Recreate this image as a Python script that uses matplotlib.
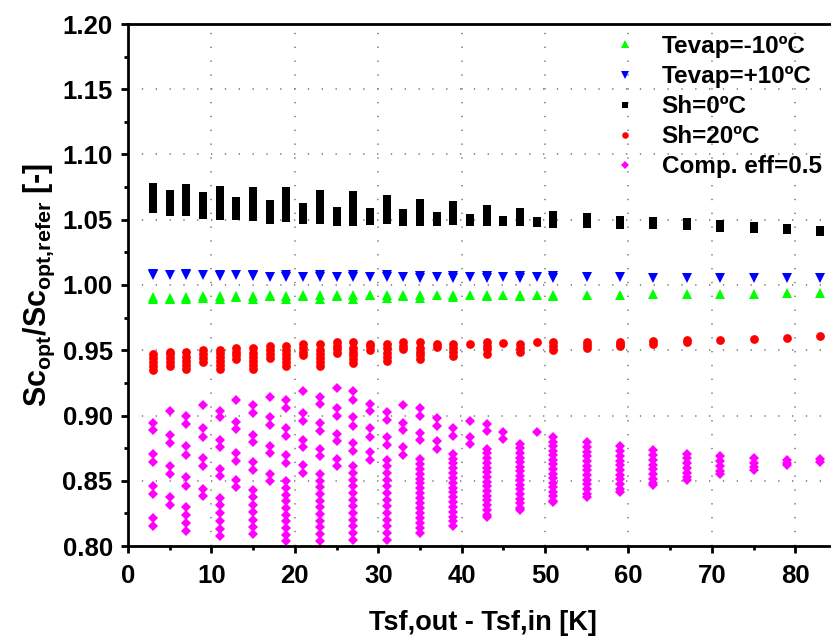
import numpy as np
import matplotlib
matplotlib.use("Agg")
import matplotlib.pyplot as plt
from matplotlib.ticker import MultipleLocator

plt.rcParams['font.family'] = ['Liberation Sans', 'DejaVu Sans']
plt.rcParams['font.weight'] = 'bold'
plt.rcParams['mathtext.fontset'] = 'custom'
plt.rcParams['mathtext.rm'] = 'Liberation Sans:bold'
plt.rcParams['mathtext.it'] = 'Liberation Sans:bold'
plt.rcParams['mathtext.bf'] = 'Liberation Sans:bold'
plt.rcParams['mathtext.default'] = 'rm'

# Tsf,out - Tsf,in [K]
dt = [3, 5, 7, 9, 11, 13, 15, 17, 19, 21, 23, 25, 27, 29, 31, 33, 35, 37, 39,
      41, 43, 45, 47, 49, 51, 55, 59, 63, 67, 71, 75, 79, 83]

# Sc_opt / Sc_opt,refer for each case, one list per dt value
tevap_m10 = [
    [0.9889, 0.9907], [0.9894, 0.9902], [0.9889, 0.9907], [0.9899, 0.9914],
    [0.9889, 0.9914], [0.9907, 0.9914], [0.9889, 0.9914], [0.9914, 0.9922],
    [0.9889, 0.9914], [0.9914, 0.9922], [0.9894, 0.9922], [0.9914, 0.9927],
    [0.9894, 0.9922], [0.9920, 0.9927], [0.9899, 0.9922], [0.9914, 0.9920],
    [0.9899, 0.9922], [0.9921], [0.9907, 0.9927], [0.9922],
    [0.9914, 0.9927], [0.9920], [0.9914, 0.9927], [0.9927],
    [0.9914, 0.9927], [0.9925], [0.9925], [0.9930], [0.9930],
    [0.9933], [0.9933], [0.9935], [0.9938],
]

tevap_p10 = [
    [1.0073, 1.0086], [1.0076], [1.0073, 1.0086], [1.0076],
    [1.0068, 1.0080], [1.0075], [1.0068, 1.0080], [1.0064],
    [1.0064, 1.0080], [1.0063], [1.0063, 1.0078], [1.0060],
    [1.0060, 1.0078], [1.0060], [1.0062, 1.0075], [1.0061],
    [1.0056, 1.0072], [1.0060], [1.0056, 1.0070], [1.0060],
    [1.0056, 1.0070], [1.0058], [1.0056, 1.0068], [1.0058],
    [1.0056, 1.0068], [1.0060], [1.0058], [1.0056], [1.0056],
    [1.0054], [1.0054], [1.0053], [1.0052],
]

sh_0 = [
    [1.058, 1.061, 1.064, 1.067, 1.070, 1.073, 1.075],
    [1.056, 1.059, 1.062, 1.065, 1.068, 1.070],
    [1.056, 1.059, 1.062, 1.065, 1.068, 1.071, 1.074],
    [1.054, 1.057, 1.060, 1.063, 1.066, 1.068],
    [1.053, 1.056, 1.059, 1.062, 1.065, 1.068, 1.071, 1.073],
    [1.053, 1.056, 1.059, 1.062, 1.064],
    [1.052, 1.055, 1.058, 1.061, 1.064, 1.067, 1.070, 1.072],
    [1.050, 1.053, 1.056, 1.059, 1.062],
    [1.051, 1.054, 1.057, 1.060, 1.063, 1.066, 1.069, 1.072],
    [1.050, 1.053, 1.056, 1.058, 1.060],
    [1.050, 1.053, 1.056, 1.059, 1.062, 1.065, 1.068, 1.070],
    [1.048, 1.051, 1.054, 1.057],
    [1.048, 1.051, 1.054, 1.057, 1.060, 1.063, 1.066, 1.069],
    [1.049, 1.052, 1.054, 1.056],
    [1.050, 1.053, 1.056, 1.059, 1.062, 1.064, 1.066],
    [1.048, 1.051, 1.053, 1.055],
    [1.048, 1.051, 1.054, 1.057, 1.060, 1.063],
    [1.048, 1.051, 1.053],
    [1.049, 1.052, 1.055, 1.058, 1.061],
    [1.048, 1.051],
    [1.048, 1.051, 1.054, 1.056, 1.058],
    [1.048, 1.050],
    [1.048, 1.051, 1.054, 1.056],
    [1.0475, 1.0487],
    [1.047, 1.050, 1.052, 1.054],
    [1.047, 1.050, 1.052],
    [1.046, 1.048, 1.050],
    [1.046, 1.048, 1.049],
    [1.045, 1.047, 1.048],
    [1.044, 1.046, 1.047],
    [1.043, 1.045],
    [1.042, 1.044],
    [1.0405, 1.042],
]

sh_20 = [
    [0.935, 0.938, 0.941, 0.944, 0.9475],
    [0.938, 0.941, 0.944, 0.947, 0.949],
    [0.936, 0.939, 0.942, 0.945, 0.949],
    [0.941, 0.944, 0.947, 0.9505],
    [0.936, 0.939, 0.942, 0.945, 0.948, 0.9505],
    [0.943, 0.946, 0.949, 0.952],
    [0.936, 0.939, 0.942, 0.945, 0.948, 0.952],
    [0.944, 0.947, 0.950, 0.953],
    [0.938, 0.941, 0.944, 0.947, 0.950, 0.953],
    [0.946, 0.949, 0.952, 0.9545],
    [0.938, 0.941, 0.944, 0.947, 0.950, 0.9545],
    [0.948, 0.951, 0.9535, 0.956],
    [0.940, 0.943, 0.946, 0.949, 0.952, 0.956],
    [0.9505, 0.953, 0.955],
    [0.9415, 0.945, 0.948, 0.9515, 0.955],
    [0.951, 0.9535, 0.956],
    [0.943, 0.946, 0.949, 0.952, 0.956],
    [0.9525, 0.955],
    [0.9455, 0.9485, 0.952, 0.955],
    [0.9548],
    [0.9475, 0.951, 0.9535, 0.956],
    [0.9556],
    [0.949, 0.952, 0.955],
    [0.956],
    [0.9505, 0.9535, 0.9565],
    [0.9515, 0.954, 0.9565],
    [0.9535, 0.955, 0.9565],
    [0.955, 0.9573],
    [0.9565, 0.9575],
    [0.9578],
    [0.9584],
    [0.9597],
    [0.9609],
]

comp_eff = [
    [0.8946, 0.8891, 0.8707, 0.8643, 0.8462, 0.8401, 0.8215, 0.8151],
    [0.9036, 0.8852, 0.8789, 0.8610, 0.8552, 0.8373, 0.8311],
    [0.9000, 0.8934, 0.8763, 0.8699, 0.8526, 0.8462, 0.8296, 0.8240, 0.8177, 0.8118],
    [0.9077, 0.8904, 0.8839, 0.8674, 0.8610, 0.8437, 0.8380],
    [0.9036, 0.8985, 0.8814, 0.8755, 0.8590, 0.8533, 0.8368, 0.8311, 0.8253,
     0.8189, 0.8133, 0.8080],
    [0.9120, 0.8954, 0.8898, 0.8712, 0.8653, 0.8508, 0.8449],
    [0.9077, 0.9018, 0.8852, 0.8796, 0.8643, 0.8585, 0.8431, 0.8373, 0.8317,
     0.8261, 0.8202, 0.8143, 0.8093],
    [0.9145, 0.8985, 0.8929, 0.8770, 0.8712, 0.8554, 0.8495],
    [0.9120, 0.9056, 0.8908, 0.8845, 0.8699, 0.8636, 0.8500, 0.8444, 0.8393,
     0.8342, 0.8292, 0.8240, 0.8189, 0.8138, 0.8087, 0.8036],
    [0.9184, 0.9018, 0.8959, 0.8814, 0.8755, 0.8617, 0.8559],
    [0.9145, 0.9087, 0.8942, 0.8883, 0.8745, 0.8686, 0.8552, 0.8500, 0.8449,
     0.8399, 0.8347, 0.8296, 0.8246, 0.8194, 0.8143, 0.8093, 0.8036],
    [0.9214, 0.9057, 0.8998, 0.8858, 0.8801, 0.8666, 0.8610],
    [0.9184, 0.9120, 0.8985, 0.8923, 0.8789, 0.8730, 0.8610, 0.8559, 0.8508,
     0.8457, 0.8406, 0.8355, 0.8304, 0.8253, 0.8202, 0.8151, 0.8100, 0.8049],
    [0.9087, 0.9036, 0.8904, 0.8839, 0.8720, 0.8661],
    [0.9026, 0.8967, 0.8839, 0.8776, 0.8661, 0.8610, 0.8559, 0.8508, 0.8457,
     0.8406, 0.8355, 0.8304, 0.8253, 0.8202, 0.8151, 0.8100, 0.8049],
    [0.9077, 0.8942, 0.8891, 0.8755, 0.8699],
    [0.9057, 0.9000, 0.8865, 0.8814, 0.8669, 0.8631, 0.8593, 0.8555, 0.8517,
     0.8479, 0.8441, 0.8403, 0.8365, 0.8327, 0.8289, 0.8251, 0.8213, 0.8175,
     0.8137, 0.8099],
    [0.8980, 0.8923, 0.8801, 0.8745],
    [0.8904, 0.8845, 0.8707, 0.8670, 0.8633, 0.8596, 0.8559, 0.8522, 0.8485,
     0.8448, 0.8411, 0.8374, 0.8337, 0.8300, 0.8263, 0.8226, 0.8190, 0.8156],
    [0.8959, 0.8839, 0.8783],
    [0.8934, 0.8883, 0.8745, 0.8709, 0.8673, 0.8637, 0.8601, 0.8565, 0.8529,
     0.8493, 0.8457, 0.8421, 0.8385, 0.8349, 0.8313, 0.8277, 0.8241, 0.8220],
    [0.8873, 0.8822],
    [0.8783, 0.8748, 0.8713, 0.8678, 0.8643, 0.8608, 0.8573, 0.8538, 0.8503,
     0.8468, 0.8433, 0.8398, 0.8363, 0.8328, 0.8293, 0.8276],
    [0.8873],
    [0.8835, 0.8800, 0.8765, 0.8730, 0.8695, 0.8660, 0.8625, 0.8590, 0.8555,
     0.8520, 0.8485, 0.8450, 0.8415, 0.8380, 0.8345, 0.8334],
    [0.8796, 0.8760, 0.8724, 0.8688, 0.8652, 0.8616, 0.8580, 0.8544, 0.8508,
     0.8472, 0.8436, 0.8400, 0.8373],
    [0.8763, 0.8727, 0.8691, 0.8655, 0.8619, 0.8583, 0.8547, 0.8511, 0.8475,
     0.8439, 0.8416],
    [0.8732, 0.8696, 0.8660, 0.8624, 0.8588, 0.8552, 0.8516, 0.8480, 0.8467],
    [0.8707, 0.8671, 0.8635, 0.8599, 0.8563, 0.8527, 0.8508],
    [0.8686, 0.8650, 0.8614, 0.8578, 0.8552],
    [0.8674, 0.8638, 0.8602, 0.8584],
    [0.8661, 0.8638, 0.8620],
    [0.8665, 0.8645],
]

series = [
    (tevap_m10, 'Tevap=-10ºC', '^', '#00FF00', 7.0),
    (tevap_p10, 'Tevap=+10ºC', 'v', '#0000FF', 7.0),
    (sh_0, 'Sh=0ºC', 's', 'black', 5.8),
    (sh_20, 'Sh=20ºC', 'o', '#FF0000', 6.3),
    (comp_eff, 'Comp. eff=0.5', 'D', '#FF00FF', 5.4),
]


def flatten(cols):
    xs, ys = [], []
    for x, col in zip(dt, cols):
        xs.extend([x] * len(col))
        ys.extend(col)
    return np.array(xs), np.array(ys)


fig = plt.figure(figsize=(8.31, 6.39), dpi=100)
ax = fig.add_axes([128 / 831, 93 / 639, 709 / 831, 522 / 639])

for cols, label, marker, color, ms in series:
    xs, ys = flatten(cols)
    ax.plot(xs, ys, linestyle='none', marker=marker, color=color,
            markersize=ms, markeredgewidth=0, label=label)

ax.set_xlim(0, 85)
ax.set_ylim(0.80, 1.20)
ax.xaxis.set_major_locator(MultipleLocator(10))
ax.xaxis.set_minor_locator(MultipleLocator(5))
ax.yaxis.set_major_locator(MultipleLocator(0.05))
ax.yaxis.set_minor_locator(MultipleLocator(0.025))
ax.yaxis.set_major_formatter(plt.FormatStrFormatter('%.2f'))

ax.grid(True, which='major', color='#808080', linestyle=(0, (0.8, 7.5)),
        linewidth=1.2)
ax.set_axisbelow(True)

for side in ['left', 'bottom', 'top', 'right']:
    ax.spines[side].set_linewidth(2.0)
ax.tick_params(which='major', direction='out', length=5, width=2,
               labelsize=18.5, top=False, right=False)
ax.tick_params(which='minor', direction='out', length=3, width=2,
               top=False, right=False)
ax.tick_params(axis='x', which='major', pad=8)
ax.tick_params(axis='y', which='major', pad=6)
for lbl in ax.get_xticklabels() + ax.get_yticklabels():
    lbl.set_fontweight('bold')

ax.set_xlabel('Tsf,out - Tsf,in [K]', fontsize=19.5, fontweight='bold',
              labelpad=16)
ax.set_ylabel(r'Sc$_{opt}$/Sc$_{opt{,}refer}$ [-]', fontsize=22,
              fontweight='bold', labelpad=4)

ax.legend(loc='upper left', bbox_to_anchor=(613 / 831, 1 - 35 / 639),
          bbox_transform=fig.transFigure, frameon=False,
          prop={'size': 17.5, 'weight': 'bold'}, handlelength=1.0,
          handletextpad=1.0, labelspacing=0.29, borderpad=0,
          borderaxespad=0, markerscale=0.75)

fig.savefig('out.png', dpi=100)
